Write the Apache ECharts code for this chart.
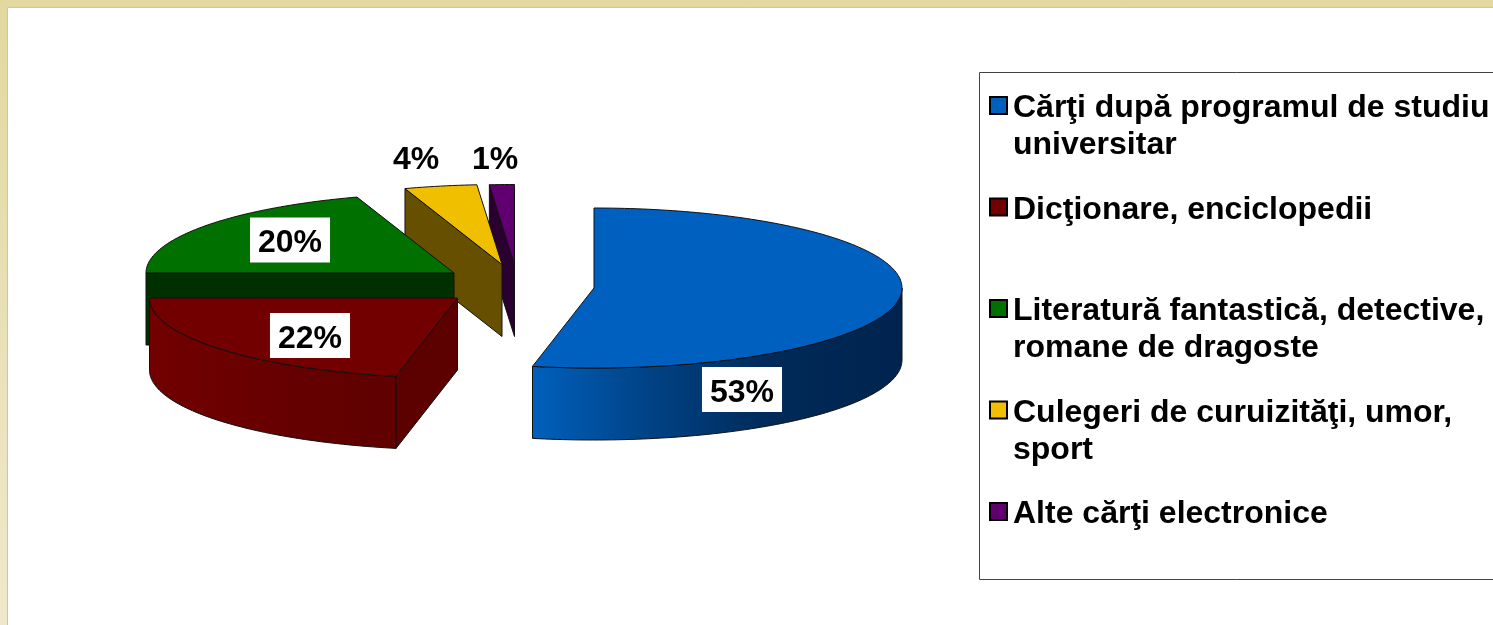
<!DOCTYPE html>
<html>
<head>
<meta charset="utf-8">
<title>Cărţi electronice</title>
<script src="https://cdn.jsdelivr.net/npm/echarts@6/dist/echarts.min.js"></script>
<style>
  html, body { margin: 0; padding: 0; background: #fff; overflow: hidden; }
  #chart { width: 1493px; height: 625px; }
</style>
</head>
<body>
<div id="chart"></div>
<script>
// data (labels are the rounded shares)
const categories = [
  'Cărţi după programul de studiu universitar',
  'Dicţionare, enciclopedii',
  'Literatură fantastică, detective, romane de dragoste',
  'Culegeri de curuizităţi, umor, sport',
  'Alte cărţi electronice',
];
const shareValues = [53.2, 21.8, 19.9, 3.8, 1.3];
const legendLines = [
  ['Cărţi după programul de studiu', 'universitar'],
  ['Dicţionare, enciclopedii', ' '],
  ['Literatură fantastică, detective,', 'romane de dragoste'],
  ['Culegeri de curuizităţi, umor,', 'sport'],
  ['Alte cărţi electronice', ' '],
];

// look of the exploded pie
const topColors = ['#0060c0', '#720000', '#007000', '#f0c000', '#600070'];
const cutColors = ['#00306a', '#5c0000', '#003000', '#665000', '#2a0030'];
const rimColors = [
  ['#0060bd', '#004488', '#002a58', '#00234e'],
  ['#720000', '#6c0000', '#640000', '#600000'],
  ['#003000', '#003000', '#003000', '#003000'],
  ['#665000', '#665000', '#665000', '#665000'],
  ['#2a0030', '#2a0030', '#2a0030', '#2a0030'],
];
const sliceCenters = [[594, 288], [457.5, 298], [454, 273], [502, 264.5], [514.5, 264.5]];
const labelCenters = [[742, 389.5], [310, 335.5], [290, 240], [416, 156.5], [495, 156.5]];
const drawOrder = [4, 3, 2, 1, 0]; // z rank per slice: purple back, then yellow, green, red
const RX = 308;
const RY = 80;
const DEPTH = 72;
const FONT = '"Liberation Sans", Arial, sans-serif';

const total = shareValues.reduce((a, b) => a + b, 0);

function startAngle(idx) {
  let sum = 0;
  for (let i = 0; i < idx; i++) sum += shareValues[i];
  return sum / total * Math.PI * 2;
}

function rimPoint(c, a, dy) {
  return [c[0] + RX * Math.sin(a), c[1] - RY * Math.cos(a) + dy];
}

function arcPoints(c, a0, a1, dy) {
  const pts = [];
  const n = Math.max(2, Math.ceil((a1 - a0) / 0.02));
  for (let i = 0; i <= n; i++) pts.push(rimPoint(c, a0 + (a1 - a0) * i / n, dy));
  return pts;
}

function polygon(points, fill) {
  return {
    type: 'polygon',
    shape: { points: points },
    style: { fill: fill, stroke: '#111', lineWidth: 1, lineJoin: 'round' },
  };
}

function renderSlice(params, api) {
  const idx = params.seriesIndex;
  const value = api.value(0);
  const c = sliceCenters[idx];
  const a0 = startAngle(idx);
  const a1 = a0 + value / total * Math.PI * 2;
  const children = [];

  // outer wall, only the front half can be seen
  const r0 = Math.max(a0, Math.PI / 2);
  const r1 = Math.min(a1, Math.PI * 1.5);
  if (r1 > r0) {
    const rim = rimColors[idx];
    children.push(polygon(
      arcPoints(c, r0, r1, 0).concat(arcPoints(c, r0, r1, DEPTH).reverse()),
      new echarts.graphic.LinearGradient(0, 0, 1, 0, [
        { offset: 0, color: rim[0] },
        { offset: 0.3, color: rim[1] },
        { offset: 0.65, color: rim[2] },
        { offset: 1, color: rim[3] },
      ])
    ));
  }

  // cut face at the start angle
  if (Math.sin(a0) < -1e-6) {
    const p = rimPoint(c, a0, 0);
    children.push(polygon(
      [c, p, [p[0], p[1] + DEPTH], [c[0], c[1] + DEPTH]],
      cutColors[idx]
    ));
  }

  // top face
  children.push(polygon([c].concat(arcPoints(c, a0, a1, 0)), topColors[idx]));

  // percent label, padding only moves the text when aligned to the top
  const lc = labelCenters[idx];
  children.push({
    type: 'text',
    z2: 100,
    style: {
      text: Math.round(value) + '%',
      x: lc[0],
      y: lc[1] - 22.5,
      align: 'center',
      verticalAlign: 'top',
      font: 'bold 32px ' + FONT,
      lineHeight: 32,
      fill: '#000',
      backgroundColor: '#fff',
      padding: [10, 8, 3, 8],
    },
  });

  return { type: 'group', children: children };
}

const chart = echarts.init(document.getElementById('chart'));

chart.setOption({
  animation: false,
  backgroundColor: '#fff',
  graphic: [
    {
      type: 'rect',
      silent: true,
      z: -10,
      shape: { x: 0, y: 0, width: 1493, height: 625 },
      style: {
        fill: new echarts.graphic.LinearGradient(0, 0, 0, 1, [
          { offset: 0, color: '#e2d8a0' },
          { offset: 1, color: '#efe9cb' },
        ]),
      },
    },
    {
      type: 'rect',
      silent: true,
      z: -9,
      shape: { x: 7.5, y: 7.5, width: 1600, height: 700 },
      style: { fill: '#fff', stroke: '#d2c88e', lineWidth: 1 },
    },
    {
      type: 'rect',
      silent: true,
      z: -8,
      shape: { x: 979.5, y: 72.5, width: 600, height: 507 },
      style: { fill: '#fff', stroke: '#444', lineWidth: 1 },
    },
  ],
  legend: {
    orient: 'vertical',
    left: 989,
    top: 47,
    padding: 0,
    itemWidth: 17,
    itemHeight: 17,
    itemGap: -15.5,
    icon: 'rect',
    selectedMode: false,
    data: categories,
    itemStyle: { borderColor: '#000', borderWidth: 2 },
    textStyle: {
      color: '#000',
      fontFamily: FONT,
      fontWeight: 'bold',
      fontSize: 32,
      lineHeight: 37,
      rich: {
        // blank first line keeps the square level with the first text line
        blank: { fontSize: 32, lineHeight: 43 },
        line: {
          color: '#000',
          fontFamily: FONT,
          fontWeight: 'bold',
          fontSize: 32,
          lineHeight: 37,
          padding: [0, 0, 0, 1],
        },
      },
    },
    formatter: function (name) {
      const lines = legendLines[categories.indexOf(name)];
      return '{blank| }\n{line|' + lines[0] + '}\n{line|' + lines[1] + '}';
    },
  },
  series: categories.map((name, i) => ({
    type: 'custom',
    name: name,
    coordinateSystem: 'none',
    z: 2 + drawOrder[i],
    silent: true,
    itemStyle: { color: topColors[i] },
    renderItem: renderSlice,
    data: [[shareValues[i]]],
  })),
});
</script>
</body>
</html>
